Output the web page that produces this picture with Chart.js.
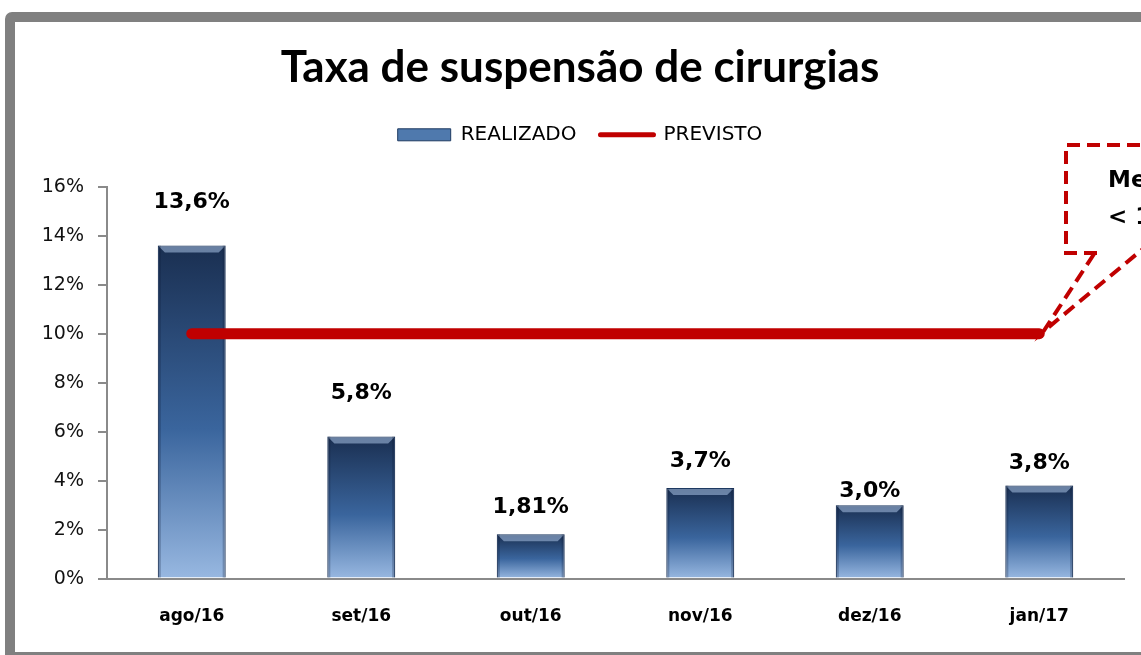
<!DOCTYPE html>
<html>
<head>
<meta charset="utf-8">
<script src="https://cdn.jsdelivr.net/npm/chart.js@4.4.1/dist/chart.umd.min.js"></script>
<style>
  body { margin: 0; background: #fff; overflow: hidden; }
  .frame { position: absolute; left: 5px; top: 12px; width: 1300px; height: 630px; border: 10px solid #808080; border-radius: 7px; }
  .chart-container { position: absolute; left: 0; top: 0; width: 1141px; height: 655px; }
</style>
</head>
<body>
<div class="frame"></div>
<div class="chart-container">
  <canvas id="barChart" width="1141" height="655"></canvas>
</div>
<script>
  const months = ["ago/16", "set/16", "out/16", "nov/16", "dez/16", "jan/17"];
  const realizado = [13.6, 5.8, 1.81, 3.7, 3.0, 3.8];
  const realizadoText = ["13,6%", "5,8%", "1,81%", "3,7%", "3,0%", "3,8%"];
  const previsto = [10, 10, 10, 10, 10, 10];
  const metaText = ["Meta", "< 10%"];

  const RED = "#C00000";
  const TITLE_FONT = "Lato, 'Open Sans', sans-serif";
  const FONT = "'DejaVu Sans', sans-serif";

  // how far each value label sits above its bar (hand placed in the original)
  const labelLift = [43, 43, 27, 27, 14, 22];

  function barGradient(ctx) {
    const chart = ctx.chart;
    if (!chart.chartArea || ctx.type !== "data") return "#4f79ad";
    const y = chart.scales.y;
    const top = y.getPixelForValue(ctx.raw);
    const bottom = y.getPixelForValue(0);
    const g = chart.ctx.createLinearGradient(0, top, 0, bottom);
    g.addColorStop(0, "#1a2f51");
    g.addColorStop(0.55, "#3a659d");
    g.addColorStop(1, "#98b8e1");
    return g;
  }

  // extra room between legend and plot, like the original
  const legendGap = {
    id: "legendGap",
    afterInit(chart) {
      const legend = chart.legend;
      const fit = legend.fit;
      legend.fit = function () {
        fit.call(this);
        this.height += 32;
      };
    }
  };

  // bevel highlight on top of each bar + value labels
  const barDecor = {
    id: "barDecor",
    afterDatasetDraw(chart, args) {
      if (args.index !== 0) return;
      const ctx = chart.ctx;
      ctx.save();
      args.meta.data.forEach((bar, i) => {
        const l = bar.x - bar.width / 2, r = bar.x + bar.width / 2;
        ctx.fillStyle = "rgba(170,195,230,0.55)";
        ctx.beginPath();
        ctx.moveTo(l + 1, bar.y + 1);
        ctx.lineTo(r - 1, bar.y + 1);
        ctx.lineTo(r - 7, bar.y + 7);
        ctx.lineTo(l + 7, bar.y + 7);
        ctx.closePath();
        ctx.fill();
        ctx.fillStyle = "rgba(10,25,50,0.25)";
        ctx.fillRect(l, bar.y, 3, bar.base - bar.y);
        ctx.fillRect(r - 3, bar.y, 3, bar.base - bar.y);

        ctx.fillStyle = "#000";
        ctx.font = "bold 22px " + FONT;
        ctx.textAlign = "center";
        ctx.textBaseline = "middle";
        ctx.fillText(realizadoText[i], bar.x, bar.y - labelLift[i]);
      });
      ctx.restore();
    }
  };

  // dashed callout "Meta < 10%" pointing to the end of the target line
  const metaCallout = {
    id: "metaCallout",
    afterDraw(chart) {
      const ctx = chart.ctx;
      const last = previsto.length - 1;
      const tipX = chart.scales.x.getPixelForValue(last) + 4;
      const tipY = chart.scales.y.getPixelForValue(previsto[last]) - 2;
      ctx.save();
      ctx.strokeStyle = RED;
      ctx.lineWidth = 4;
      ctx.setLineDash([13, 7]);
      ctx.beginPath();
      ctx.moveTo(1160, 145);
      ctx.lineTo(1066, 145);
      ctx.lineTo(1066, 253);
      ctx.lineTo(1100, 253);
      ctx.stroke();
      ctx.beginPath();
      ctx.moveTo(1094, 254);
      ctx.lineTo(tipX, tipY);
      ctx.lineTo(1150, 243);
      ctx.stroke();
      ctx.setLineDash([]);
      ctx.fillStyle = "#000";
      ctx.font = "bold 23px " + FONT;
      ctx.textAlign = "left";
      ctx.textBaseline = "middle";
      ctx.fillText(metaText[0], 1108, 181);
      ctx.fillText(metaText[1], 1108, 218);
      ctx.restore();
    }
  };

  const chart = new Chart(document.getElementById("barChart").getContext("2d"), {
    data: {
      labels: months,
      datasets: [
        {
          type: "bar",
          label: "REALIZADO",
          data: realizado,
          backgroundColor: barGradient,
          borderColor: "#1e3a62",
          borderWidth: 1,
          barPercentage: 0.4,
          categoryPercentage: 1,
          order: 2
        },
        {
          type: "line",
          label: "PREVISTO",
          data: previsto,
          borderColor: RED,
          backgroundColor: RED,
          borderWidth: 11,
          borderCapStyle: "round",
          pointRadius: 0,
          order: 1
        }
      ]
    },
    options: {
      responsive: false,
      animation: false,
      layout: { padding: { left: 36, right: 17, top: 0, bottom: 0 } },
      plugins: {
        tooltip: { enabled: false },
        title: {
          display: true,
          text: "Taxa de suspensão de cirurgias",
          color: "#000",
          font: { family: TITLE_FONT, size: 44, weight: "bold" },
          padding: { top: 41, bottom: 7 }
        },
        legend: {
          position: "top",
          labels: {
            color: "#000",
            font: { family: FONT, size: 20 },
            usePointStyle: true,
            pointStyleWidth: 53,
            boxHeight: 12,
            padding: 24,
            generateLabels: () => [
              { text: "REALIZADO", fillStyle: "#4f79ad", strokeStyle: "#1e3a62", lineWidth: 1, pointStyle: "rect", datasetIndex: 0, fontColor: "#000" },
              { text: "PREVISTO", fillStyle: RED, strokeStyle: RED, lineWidth: 5, lineCap: "round", pointStyle: "line", datasetIndex: 1, fontColor: "#000" }
            ]
          }
        }
      },
      scales: {
        x: {
          grid: { display: false, drawTicks: false },
          border: { color: "#8a8a8a", width: 2 },
          ticks: { color: "#000", padding: 28, font: { family: FONT, size: 17, weight: "bold" } }
        },
        y: {
          min: 0,
          max: 16,
          afterFit: s => { s.width = 71; },
          grid: { drawOnChartArea: false, tickLength: 9, color: "#8a8a8a", lineWidth: 2 },
          border: { color: "#8a8a8a", width: 2 },
          ticks: {
            stepSize: 2,
            padding: 14,
            color: "#111",
            font: { family: FONT, size: 19 },
            callback: v => v + "%"
          }
        }
      }
    },
    plugins: [legendGap, barDecor, metaCallout]
  });
</script>
</body>
</html>
